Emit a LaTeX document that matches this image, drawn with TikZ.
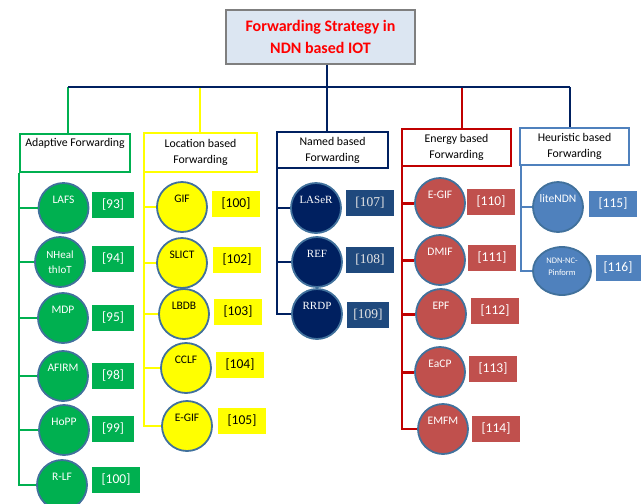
\documentclass[tikz,border=0pt]{standalone}
\usepackage{fontspec}
\setmainfont{Carlito}
\newfontfamily\serifface{Liberation Serif}
\usetikzlibrary{shapes.geometric}

\definecolor{gfill}{HTML}{00B050}
\definecolor{yfill}{HTML}{FFFF00}
\definecolor{nfill}{HTML}{002060}
\definecolor{rfill}{HTML}{C0504D}
\definecolor{rline}{HTML}{C00000}
\definecolor{bfill}{HTML}{4F81BD}
\definecolor{nlabel}{HTML}{1F497D}
\definecolor{ring}{HTML}{41719C}
\definecolor{titlefill}{HTML}{DCE6F2}
\definecolor{titleline}{HTML}{7F7F7F}

\begin{document}
\begin{tikzpicture}[x=1pt,y=-1pt,
  cat/.style={draw, line width=2.3pt, fill=white, inner sep=0pt, align=center,
    font=\fontsize{11.8}{16}\selectfont},
  bub/.style={circle, draw=ring, line width=1.8pt, minimum size=50pt, inner sep=0pt},
  ctext/.style={font=\fontsize{11.5}{14}\selectfont, align=center, inner sep=0pt},
  stext/.style={ctext, font=\serifface\fontsize{11}{14}\selectfont},
  refbox/.style={minimum width=48pt, minimum height=26pt, inner sep=0pt,
    font=\fontsize{13.5}{15}\selectfont},
  wire/.style={line width=2.3pt},
]
\useasboundingbox (0,0) rectangle (641,504);

% ---------- title and main bus ----------
\node[draw=titleline, line width=1.2pt, fill=titlefill, minimum width=189pt, minimum height=54pt,
  align=center, text=red, font=\bfseries\fontsize{16}{22}\selectfont] (title) at (320.5,37)
  {Forwarding Strategy in\\NDN based IOT};

% category boxes
\node[cat, draw=gfill, minimum width=110pt, minimum height=38pt] (adp) at (75,153) {Adaptive Forwarding\\[1pt]\strut};
\node[cat, draw=yfill, minimum width=113pt, minimum height=39pt] (loc) at (200.5,152.5) {Location based\\Forwarding};
\node[cat, draw=nfill, line width=2pt, minimum width=111pt, minimum height=36pt] (nam) at (332.5,150) {Named based\\Forwarding};
\node[cat, draw=rline, minimum width=109pt, minimum height=37pt] (ene) at (456.5,147.5) {Energy based\\Forwarding};
\node[cat, draw=bfill, minimum width=109pt, minimum height=37pt] (heu) at (574.5,146.5) {Heuristic based\\Forwarding};

\coordinate (busA) at (68,87);
\coordinate (busB) at (200,87);
\coordinate (busC) at (327,87);
\coordinate (busD) at (462,87);
\coordinate (busE) at (570,87);

\draw[wire, draw=gfill] (busA) -- (busA |- adp.north);
\draw[wire, draw=yfill] (busB) -- (busB |- loc.north);
\draw[wire, draw=rline] (busD) -- (busD |- ene.north);
\draw[wire, draw=nfill] (busE) -- (busE |- heu.north);
\draw[wire, draw=nfill] (busA) -- (busE);
\draw[wire, draw=nfill] (busC |- title.south) -- (busC |- nam.north);

% ---------- adaptive forwarding ----------
\node[bub, fill=gfill] (lafs) at (63.5,208) {};
\node[bub, fill=gfill] (nhe) at (60,262) {};
\node[bub, fill=gfill] (mdp) at (63,318) {};
\node[bub, fill=gfill] (afi) at (63,376) {};
\node[bub, fill=gfill] (hop) at (64,430) {};
\node[bub, fill=gfill] (rlf) at (62,485) {};
\node[ctext, text=white] (lafs-t) at ([yshift=8pt]lafs.center) {LAFS};
\node[ctext, text=white, font=\fontsize{11}{15}\selectfont] (nhe-t) at ([yshift=0pt]nhe.center) {NHeal\\thIoT};
\node[ctext, text=white] (mdp-t) at ([yshift=8pt]mdp.center) {MDP};
\node[ctext, text=white] (afi-t) at ([yshift=8pt]afi.center) {AFIRM};
\node[ctext, text=white] (hop-t) at ([yshift=8pt]hop.center) {HoPP};
\node[ctext, text=white] (rlf-t) at ([yshift=8pt]rlf.center) {R-LF};
\node[refbox, fill=gfill, text=white, minimum width=42pt] (r93) at (113,205) {[93]};
\node[refbox, fill=gfill, text=white, minimum width=42pt] (r94) at (113,259) {[94]};
\node[refbox, fill=gfill, text=white, minimum width=42pt] (r95) at (113,318) {[95]};
\node[refbox, fill=gfill, text=white, minimum width=42pt] (r98) at (113,376) {[98]};
\node[refbox, fill=gfill, text=white, minimum width=42pt] (r99) at (113,429) {[99]};
\node[refbox, fill=gfill, text=white] (r100a) at (116,480) {[100]};
\coordinate (gsp) at ([xshift=0pt]adp.south west);
\draw[wire, draw=gfill] (gsp) -- (gsp |- rlf) -- (rlf.west);
\foreach \n in {lafs,nhe,mdp,afi,hop}
  \draw[wire, draw=gfill] (gsp |- \n) -- (\n.west);

% ---------- location based forwarding ----------
\node[bub, fill=yfill] (gif) at (182,207) {};
\node[bub, fill=yfill] (sli) at (182,263) {};
\node[bub, fill=yfill] (lbd) at (184,314) {};
\node[bub, fill=yfill] (ccl) at (186,368) {};
\node[bub, fill=yfill] (egy) at (187,426) {};
\node[ctext] (gif-t) at ([yshift=8pt]gif.center) {GIF};
\node[ctext] (sli-t) at ([yshift=8pt]sli.center) {SLICT};
\node[ctext] (lbd-t) at ([yshift=8pt]lbd.center) {LBDB};
\node[ctext] (ccl-t) at ([yshift=8pt]ccl.center) {CCLF};
\node[ctext] (egy-t) at ([yshift=8pt]egy.center) {E-GIF};
\node[refbox, fill=yfill] (r100b) at (236,204) {[100]};
\node[refbox, fill=yfill] (r102) at (237,260) {[102]};
\node[refbox, fill=yfill] (r103) at (238,312) {[103]};
\node[refbox, fill=yfill] (r104) at (240,365) {[104]};
\node[refbox, fill=yfill] (r105) at (242,421) {[105]};
\coordinate (ysp) at ([xshift=1pt]loc.south west);
\draw[wire, draw=yfill] (ysp) -- (ysp |- egy) -- (egy.west);
\foreach \n in {gif,sli,lbd,ccl}
  \draw[wire, draw=yfill] (ysp |- \n) -- (\n.west);

% ---------- named based forwarding ----------
\node[bub, fill=nfill] (las) at (316,208) {};
\node[bub, fill=nfill] (ref) at (317,262) {};
\node[bub, fill=nfill] (rrd) at (317,314) {};
\node[stext, text=white] (las-t) at ([yshift=8pt]las.center) {LASeR};
\node[stext, text=white] (ref-t) at ([yshift=8pt]ref.center) {REF};
\node[stext, text=white] (rrd-t) at ([yshift=8pt]rrd.center) {RRDP};
\node[refbox, fill=nlabel, text=white!90!black, minimum width=48pt, font=\serifface\fontsize{13.5}{15}\selectfont] (r107) at (370,203) {[107]};
\node[refbox, fill=nlabel, text=white!90!black, minimum width=48pt, font=\serifface\fontsize{13.5}{15}\selectfont] (r108) at (370,260) {[108]};
\node[refbox, fill=nlabel, text=white!90!black, minimum width=42pt, font=\serifface\fontsize{13.5}{15}\selectfont] (r109) at (368,315) {[109]};
\coordinate (nsp) at ([xshift=1pt]nam.south west);
\draw[wire, line width=2pt, draw=nfill] (nsp) -- (nsp |- rrd) -- (rrd.west);
\foreach \n in {las,ref}
  \draw[wire, line width=2pt, draw=nfill] (nsp |- \n) -- (\n.west);

% ---------- energy based forwarding ----------
\node[bub, fill=rfill] (egi) at (440,203) {};
\node[bub, fill=rfill] (dmi) at (440,260) {};
\node[bub, fill=rfill] (epf) at (441,314) {};
\node[bub, fill=rfill] (eac) at (440,372) {};
\node[bub, fill=rfill] (emf) at (443,429) {};
\node[ctext, text=white] (egi-t) at ([yshift=8pt]egi.center) {E-GIF};
\node[ctext, text=white] (dmi-t) at ([yshift=8pt]dmi.center) {DMIF};
\node[ctext, text=white] (epf-t) at ([yshift=8pt]epf.center) {EPF};
\node[ctext, text=white] (eac-t) at ([yshift=8pt]eac.center) {EaCP};
\node[ctext, text=white] (emf-t) at ([yshift=8pt]emf.center) {EMFM};
\node[refbox, fill=rfill, text=white] (r110) at (491,202) {[110]};
\node[refbox, fill=rfill, text=white] (r111) at (492,258) {[111]};
\node[refbox, fill=rfill, text=white] (r112) at (495,311) {[112]};
\node[refbox, fill=rfill, text=white] (r113) at (493,369) {[113]};
\node[refbox, fill=rfill, text=white] (r114) at (496,429) {[114]};
\coordinate (rsp) at ([xshift=1pt]ene.south west);
\draw[wire, draw=rline] (rsp) -- (rsp |- emf) -- (emf.west);
\foreach \n in {egi,dmi,epf,eac}
  \draw[wire, line width=3pt, draw=rline] (rsp |- \n) -- (\n.west);

% ---------- heuristic based forwarding ----------
\node[bub, fill=bfill] (lit) at (558,207) {};
\node[ellipse, draw=ring, line width=1.8pt, fill=bfill, minimum width=58pt, minimum height=48pt, inner sep=0pt] (ndn) at (562,271) {};
\node[ctext, text=white] (lit-t) at ([yshift=8pt]lit.center) {liteNDN};
\node[ctext, text=white, font=\fontsize{8.5}{12}\selectfont] (ndn-t) at ([yshift=4pt]ndn.center) {NDN-NC-\\Pinform};
\node[refbox, fill=bfill, text=white] (r115) at (613,204) {[115]};
\node[refbox, fill=bfill, text=white, minimum width=45pt] (r116) at (618,268) {[116]};
\coordinate (bsp) at ([xshift=2pt]heu.south west);
\draw[wire, draw=bfill] (bsp) -- (bsp |- ndn) -- (ndn.west);
\draw[wire, draw=bfill] (bsp |- lit) -- (lit.west);
\end{tikzpicture}
\end{document}
